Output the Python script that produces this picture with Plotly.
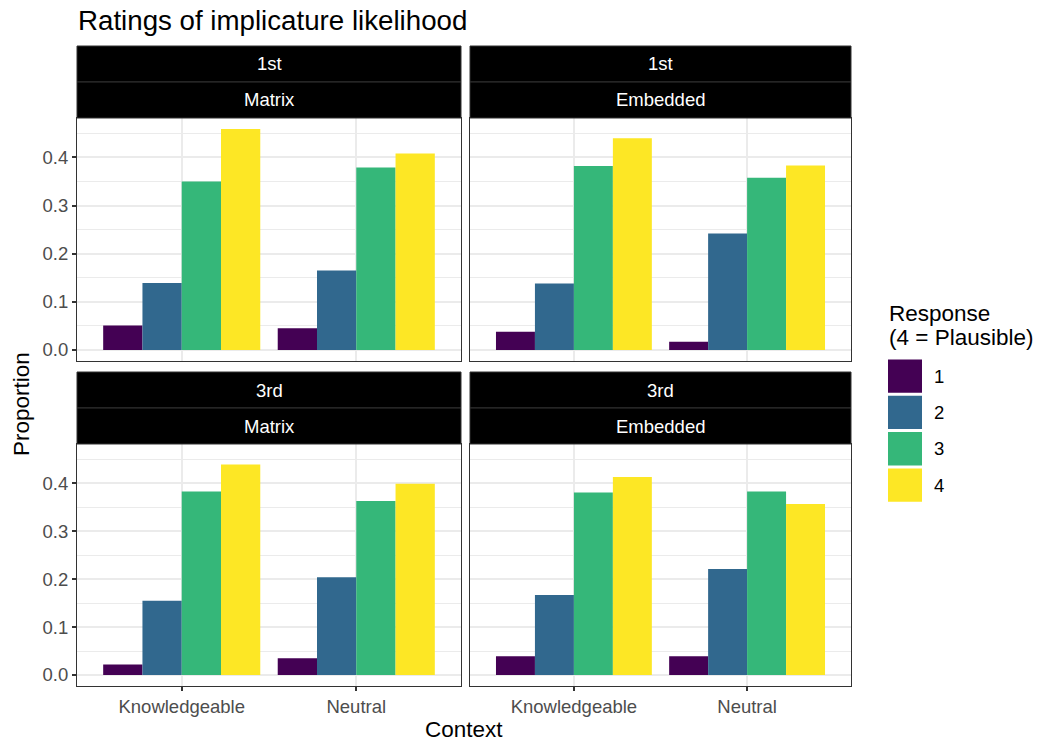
import plotly.graph_objects as go

# Data: proportion of responses per rating, by perspective / format / context
contexts = ["Knowledgeable", "Neutral"]
responses = ["1", "2", "3", "4"]
colors = ["#440154", "#31688E", "#35B779", "#FDE725"]

first_matrix = {
    "1": [0.051, 0.045],
    "2": [0.139, 0.165],
    "3": [0.350, 0.379],
    "4": [0.459, 0.408],
}
first_embedded = {
    "1": [0.038, 0.017],
    "2": [0.138, 0.242],
    "3": [0.382, 0.358],
    "4": [0.440, 0.383],
}
third_matrix = {
    "1": [0.022, 0.035],
    "2": [0.155, 0.204],
    "3": [0.383, 0.363],
    "4": [0.439, 0.399],
}
third_embedded = {
    "1": [0.039, 0.039],
    "2": [0.167, 0.221],
    "3": [0.381, 0.383],
    "4": [0.413, 0.357],
}

panels = [
    ("1st", "Matrix", first_matrix),
    ("1st", "Embedded", first_embedded),
    ("3rd", "Matrix", third_matrix),
    ("3rd", "Embedded", third_embedded),
]

W, H = 1039, 742
ML, MR, MT, MB = 77, 188, 46, 56
PW, PH = W - ML - MR, H - MT - MB


def px_x(x):
    return (x - ML) / PW


def px_y(y):
    return (H - MB - y) / PH


# panel pixel boxes
col_x = [(77, 461), (470, 851)]
row_y = [(118, 361, 46), (444, 686, 372)]  # (plot top, plot bottom, strip top)

font_family = "Liberation Sans, Arial, sans-serif"
tick_font = dict(size=18.5, color="#4D4D4D", family=font_family)

fig = go.Figure()
layout = dict(
    width=W,
    height=H,
    margin=dict(l=ML, r=MR, t=MT, b=MB),
    paper_bgcolor="white",
    plot_bgcolor="white",
    barmode="group",
    bargap=0.1,
    bargroupgap=0,
    showlegend=False,
    font=dict(family=font_family, color="#000000"),
)

shapes = []
annotations = []

for i, (person, fmt, vals) in enumerate(panels):
    r, c = divmod(i, 2)
    n = i + 1
    xa = "x" if n == 1 else f"x{n}"
    ya = "y" if n == 1 else f"y{n}"
    for resp, col in zip(responses, colors):
        fig.add_trace(
            go.Bar(
                x=contexts,
                y=vals[resp],
                name=resp,
                marker=dict(color=col, line=dict(width=0)),
                xaxis=xa,
                yaxis=ya,
            )
        )
    x0, x1 = col_x[c]
    top, bottom, strip_top = row_y[r]
    xkey = "xaxis" if n == 1 else f"xaxis{n}"
    ykey = "yaxis" if n == 1 else f"yaxis{n}"
    layout[xkey] = dict(
        domain=[px_x(x0), px_x(x1)],
        anchor=ya,
        range=[-0.6, 1.6],
        showgrid=True,
        gridcolor="#EBEBEB",
        gridwidth=2,
        showline=True,
        mirror=True,
        linecolor="#333333",
        linewidth=1,
        zeroline=False,
        ticks="outside" if r == 1 else "",
        ticklen=4,
        tickwidth=1.5,
        tickcolor="#333333",
        showticklabels=(r == 1),
        tickfont=tick_font,
        fixedrange=True,
    )
    layout[ykey] = dict(
        domain=[px_y(bottom), px_y(top)],
        anchor=xa,
        range=[-0.02295, 0.48195],
        dtick=0.1,
        tick0=0,
        tickformat=".1f",
        showgrid=True,
        gridcolor="#EBEBEB",
        gridwidth=2,
        minor=dict(dtick=0.05, showgrid=True, gridcolor="#EBEBEB", gridwidth=1),
        showline=True,
        mirror=True,
        linecolor="#333333",
        linewidth=1,
        zeroline=False,
        ticks="outside" if c == 0 else "",
        ticklen=4,
        tickwidth=1.5,
        tickcolor="#333333",
        showticklabels=(c == 0),
        tickfont=tick_font,
        fixedrange=True,
    )
    # two stacked facet strips
    mid = (strip_top + top) / 2
    for (sy0, sy1, label) in [(strip_top, mid, person), (mid, top, fmt)]:
        shapes.append(
            dict(
                type="rect",
                xref="paper",
                yref="paper",
                x0=px_x(x0),
                x1=px_x(x1),
                y0=px_y(sy1),
                y1=px_y(sy0),
                fillcolor="black",
                line=dict(color="#333333", width=1),
                layer="above",
            )
        )
        annotations.append(
            dict(
                text=label,
                xref="paper",
                yref="paper",
                x=px_x((x0 + x1) / 2),
                y=px_y((sy0 + sy1) / 2),
                xanchor="center",
                yanchor="middle",
                showarrow=False,
                font=dict(size=18.5, color="white", family=font_family),
            )
        )


def add_text(text, x, y, size, xanchor="left", angle=0):
    annotations.append(
        dict(
            text=text,
            xref="paper",
            yref="paper",
            x=px_x(x),
            y=px_y(y),
            xanchor=xanchor,
            yanchor="middle",
            textangle=angle,
            showarrow=False,
            font=dict(size=size, color="black", family=font_family),
        )
    )


# title and shared axis titles
add_text("Ratings of implicature likelihood", 76, 20, 27.7)
add_text("Context", 464, 729, 22.5, xanchor="center")
add_text("Proportion", 21, 404, 22.5, xanchor="center", angle=-90)

# legend
add_text("Response", 887, 313, 22.5)
add_text("(4 = Plausible)", 887, 337, 22.5)
key_top = 358
key_h = 36.3
for k, (resp, col) in enumerate(zip(responses, colors)):
    ky0 = key_top + k * key_h
    shapes.append(
        dict(
            type="rect",
            xref="paper",
            yref="paper",
            x0=px_x(888),
            x1=px_x(922),
            y0=px_y(ky0 + key_h - 1.5),
            y1=px_y(ky0 + 1.5),
            fillcolor=col,
            line=dict(width=0),
        )
    )
    add_text(resp, 932, ky0 + key_h / 2, 18.5)

layout["shapes"] = shapes
layout["annotations"] = annotations
fig.update_layout(**layout)
fig.write_html("out.html")
